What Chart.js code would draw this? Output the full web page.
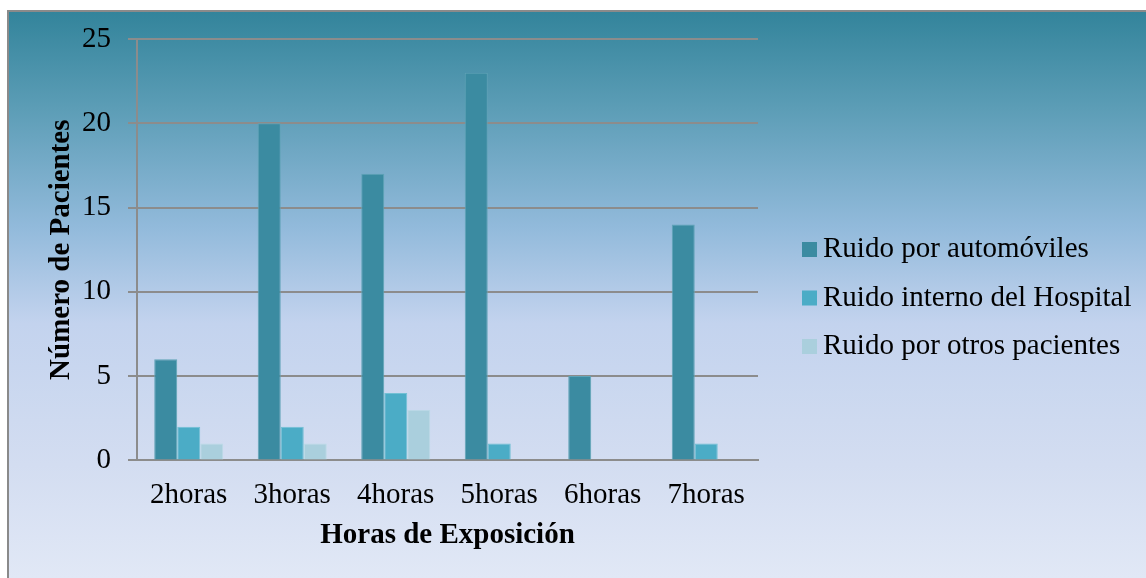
<!DOCTYPE html>
<html>
<head>
<meta charset="utf-8">
<script src="https://cdn.jsdelivr.net/npm/chart.js@4/dist/chart.umd.min.js"></script>
<style>
  body { margin: 0; background: #fff; }
  #marco {
    position: absolute; left: 7px; top: 10px; width: 1139px; height: 568px;
    border-left: 2px solid #8a8a8a; border-top: 2px solid #8a8a8a;
    box-sizing: border-box;
    background: linear-gradient(to bottom, #33849b 0%, #5c9db6 17%, #92badb 38%, #c3d3ee 55%, #d3ddf1 80%, #e1e8f6 100%);
  }
</style>
</head>
<body>
<div id="marco"><canvas id="grafico"></canvas></div>
<script>
const categorias = ["2horas", "3horas", "4horas", "5horas", "6horas", "7horas"];
const automoviles = [6, 20, 17, 23, 5, 14];
const hospital = [2, 2, 4, 1, 0, 1];
const otrosPacientes = [1, 1, 3, 0, 0, 0];
const ticksY = [0, 5, 10, 15, 20, 25];

const fuente = "'Liberation Serif', 'Times New Roman', serif";
const gris = "#8c8c8c";

function serie(label, datos, color, borde) {
  return {
    label: label,
    data: datos,
    backgroundColor: color,
    borderColor: borde,
    borderWidth: 1,
    categoryPercentage: 0.667,
    barPercentage: 1.0
  };
}

// leyenda a la derecha, dibujada con los colores de cada dataset
const leyenda = {
  id: "leyenda",
  afterDraw(chart, args, opts) {
    const ctx = chart.ctx;
    ctx.save();
    ctx.font = opts.size + "px " + fuente;
    ctx.textBaseline = "alphabetic";
    ctx.textAlign = "left";
    chart.data.datasets.forEach((ds, i) => {
      const y = opts.y + i * opts.paso;
      ctx.fillStyle = ds.backgroundColor;
      ctx.fillRect(opts.x, y - opts.caja, opts.caja, opts.caja);
      ctx.fillStyle = "#000";
      ctx.fillText(ds.label, opts.x + opts.caja + 6, y);
    });
    ctx.restore();
  }
};

new Chart(document.getElementById("grafico"), {
  type: "bar",
  data: {
    labels: categorias,
    datasets: [
      serie("Ruido por automóviles", automoviles, "#3b8ba1", "#5fa3b6"),
      serie("Ruido interno del Hospital", hospital, "#4bacc6", "#72c0d4"),
      serie("Ruido por otros pacientes", otrosPacientes, "#aacfdd", "#bcdbe6")
    ]
  },
  options: {
    responsive: true,
    maintainAspectRatio: false,
    animation: false,
    layout: { padding: { left: 30, top: 27, right: 388, bottom: 21 } },
    plugins: {
      tooltip: { enabled: false },
      legend: { display: false },
      leyenda: { x: 793, y: 245, paso: 48.5, caja: 15, size: 29 }
    },
    scales: {
      x: {
        grid: { display: false, drawTicks: false },
        border: { display: true, color: gris, width: 2 },
        ticks: { color: "#000", font: { family: fuente, size: 29 }, padding: 18 },
        title: {
          display: true, text: "Horas de Exposición", color: "#000",
          font: { family: fuente, size: 29, weight: "bold" },
          padding: { top: -13, bottom: 4 }
        }
      },
      y: {
        min: 0, max: 25,
        afterBuildTicks: (escala) => { escala.ticks = ticksY.map(v => ({ value: v })); },
        afterFit: (escala) => {
          escala.width = 98;
          escala.paddingTop = 0;
          escala.paddingBottom = 0;
        },
        grid: { color: gris, lineWidth: 2, tickLength: 9 },
        border: { display: true, color: gris, width: 2 },
        ticks: { color: "#000", font: { family: fuente, size: 29 }, padding: 17 },
        title: {
          display: true, text: "Número de Pacientes", color: "#000",
          font: { family: fuente, size: 29, weight: "bold" },
          padding: { top: 5, bottom: 0 }
        }
      }
    }
  },
  plugins: [leyenda]
});
</script>
</body>
</html>
